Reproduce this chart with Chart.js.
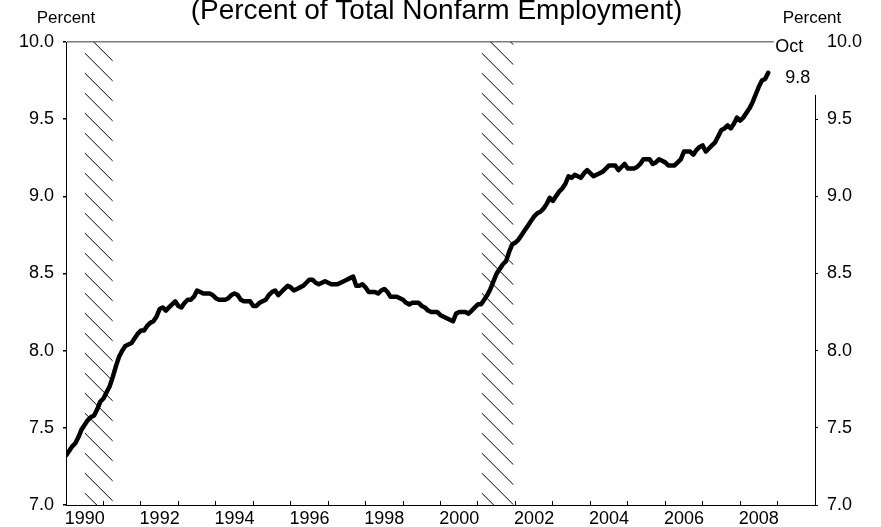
<!DOCTYPE html>
<html>
<head>
<meta charset="utf-8">
<script src="https://cdn.jsdelivr.net/npm/chart.js@4.4.0/dist/chart.umd.min.js"></script>
<style>
  html, body { margin: 0; padding: 0; background: #fff; }
</style>
</head>
<body>
<canvas id="myChart" width="881" height="527"></canvas>
<script>
// monthly series, Jan 1990 .. Oct 2008 (percent of total nonfarm employment)
var startYear = 1990;
var shares = [
    7.32, 7.35, 7.38, 7.40, 7.44, 7.49, 7.52, 7.55, 7.57, 7.58, 7.62, 7.67, // 1990
    7.69, 7.73, 7.77, 7.83, 7.90, 7.96, 8.00, 8.03, 8.04, 8.05, 8.08, 8.11, // 1991
    8.13, 8.13, 8.16, 8.18, 8.19, 8.22, 8.27, 8.28, 8.26, 8.28, 8.30, 8.32, // 1992
    8.29, 8.28, 8.31, 8.33, 8.33, 8.35, 8.39, 8.38, 8.37, 8.37, 8.37, 8.36, // 1993
    8.34, 8.33, 8.33, 8.33, 8.34, 8.36, 8.37, 8.36, 8.33, 8.32, 8.32, 8.32, // 1994
    8.29, 8.29, 8.31, 8.32, 8.33, 8.36, 8.38, 8.39, 8.36, 8.38, 8.40, 8.42, // 1995
    8.41, 8.39, 8.40, 8.41, 8.42, 8.44, 8.46, 8.46, 8.44, 8.43, 8.44, 8.45, // 1996
    8.44, 8.43, 8.43, 8.43, 8.44, 8.45, 8.46, 8.47, 8.48, 8.42, 8.42, 8.43, // 1997
    8.41, 8.38, 8.38, 8.38, 8.37, 8.39, 8.40, 8.38, 8.35, 8.35, 8.35, 8.34, // 1998
    8.33, 8.31, 8.30, 8.31, 8.31, 8.31, 8.29, 8.28, 8.26, 8.25, 8.25, 8.25, // 1999
    8.23, 8.22, 8.21, 8.20, 8.19, 8.24, 8.25, 8.25, 8.25, 8.24, 8.26, 8.28, // 2000
    8.30, 8.30, 8.33, 8.36, 8.40, 8.45, 8.50, 8.53, 8.56, 8.58, 8.64, 8.69, // 2001
    8.70, 8.72, 8.75, 8.78, 8.81, 8.84, 8.87, 8.89, 8.90, 8.92, 8.95, 8.99, // 2002
    8.97, 9.00, 9.03, 9.05, 9.08, 9.13, 9.12, 9.14, 9.13, 9.12, 9.15, 9.17, // 2003
    9.15, 9.13, 9.14, 9.15, 9.16, 9.18, 9.20, 9.20, 9.20, 9.17, 9.19, 9.21, // 2004
    9.18, 9.18, 9.18, 9.19, 9.21, 9.24, 9.24, 9.24, 9.21, 9.22, 9.24, 9.23, // 2005
    9.22, 9.20, 9.20, 9.20, 9.22, 9.24, 9.29, 9.29, 9.29, 9.27, 9.30, 9.32, // 2006
    9.33, 9.29, 9.31, 9.33, 9.35, 9.39, 9.43, 9.44, 9.46, 9.44, 9.47, 9.51, // 2007
    9.49, 9.51, 9.54, 9.57, 9.61, 9.66, 9.71, 9.75, 9.76, 9.80              // 2008
];
var yearLabels = [1990, 1992, 1994, 1996, 1998, 2000, 2002, 2004, 2006, 2008];
var recessionStart = [1990.5, 2001.1];
var recessionEnd = [1991.25, 2001.95];
var lastMonthName = 'Oct';
var titleText = '(Percent of Total Nonfarm Employment)';
var unitText = 'Percent';

var FONT = '"Liberation Sans", Arial, sans-serif';

var points = shares.map(function(v, i) {
    return {x: startYear + i / 12, y: v};
});

// hatched recession bands, drawn under the line
var recessionPlugin = {
    id: 'recessions',
    beforeDatasetsDraw: function(chart) {
        var ctx = chart.ctx, area = chart.chartArea, xs = chart.scales.x;
        ctx.save();
        ctx.strokeStyle = '#000';
        ctx.lineWidth = 1;
        for (var r = 0; r < recessionStart.length; r++) {
            var x1 = xs.getPixelForValue(recessionStart[r]);
            var x2 = xs.getPixelForValue(recessionEnd[r]);
            var w = x2 - x1;
            ctx.save();
            ctx.beginPath();
            ctx.rect(x1, area.top, w, area.bottom - area.top);
            ctx.clip();
            ctx.beginPath();
            for (var y = area.top + 11 - 20 * Math.ceil(w / 20 + 1); y < area.bottom; y += 20) {
                ctx.moveTo(x1, y);
                ctx.lineTo(x2, y + w);
            }
            ctx.stroke();
            ctx.restore();
        }
        ctx.restore();
    }
};

// "Oct / 9.8" label at end of line, titles
var labelPlugin = {
    id: 'labels',
    afterDatasetsDraw: function(chart) {
        var ctx = chart.ctx, area = chart.chartArea;
        var last = points[points.length - 1];
        var px = chart.scales.x.getPixelForValue(last.x);
        var py = chart.scales.y.getPixelForValue(last.y);
        ctx.save();
        ctx.fillStyle = '#fff';
        ctx.fillRect(px + 5.5, area.top - 12, 46, py + 22 - (area.top - 12));
        ctx.fillStyle = '#000';
        ctx.font = '18px ' + FONT;
        ctx.textBaseline = 'middle';
        ctx.textAlign = 'left';
        ctx.fillText(lastMonthName, px + 7, area.top + 5);
        ctx.fillText(last.y.toFixed(1), px + 17, py + 5);
        ctx.restore();
    },
    afterDraw: function(chart) {
        var ctx = chart.ctx, area = chart.chartArea;
        ctx.save();
        ctx.fillStyle = '#000';
        ctx.textAlign = 'center';
        ctx.textBaseline = 'alphabetic';
        ctx.font = '28px ' + FONT;
        ctx.fillText(titleText, (area.left + area.right) / 2 - 4, 19);
        ctx.font = '17px ' + FONT;
        ctx.fillText(unitText, area.left, 23);
        ctx.fillText(unitText, area.right - 3, 23);
        ctx.restore();
    }
};

var ctx = document.getElementById('myChart').getContext('2d');
var myChart = new Chart(ctx, {
    type: 'line',
    data: {
        datasets: [{
            data: points,
            borderColor: '#000',
            borderWidth: 4.5,
            borderJoinStyle: 'round',
            borderCapStyle: 'round',
            pointRadius: 0,
            tension: 0,
            fill: false
        }]
    },
    options: {
        responsive: false,
        animation: false,
        layout: {padding: {top: 42, left: 0, right: 0, bottom: 0}},
        plugins: {legend: {display: false}, tooltip: {enabled: false}},
        scales: {
            x: {
                type: 'linear',
                position: 'bottom',
                weight: 0,
                min: 1990,
                max: 2010,
                ticks: {display: false, stepSize: 1},
                grid: {drawOnChartArea: false, tickLength: -4, color: '#000', lineWidth: 1},
                border: {display: true, color: '#000', width: 1},
                afterFit: function(s) { s.height = 0; }
            },
            xl: {
                type: 'linear',
                position: 'bottom',
                weight: 1,
                min: 1989.5,
                max: 2009.5,
                afterBuildTicks: function(s) {
                    s.ticks = yearLabels.map(function(v) { return {value: v}; });
                },
                ticks: {
                    autoSkip: false, maxRotation: 0, padding: 3, color: '#000',
                    font: {family: FONT, size: 18},
                    callback: function(v) { return String(v); }
                },
                grid: {display: false, drawTicks: false},
                border: {display: false},
                afterFit: function(s) { s.height = 22; }
            },
            y: {
                position: 'left',
                min: 7,
                max: 10,
                ticks: {
                    stepSize: 0.5, padding: 9, color: '#000',
                    font: {family: FONT, size: 18},
                    callback: function(v) { return v.toFixed(1); }
                },
                grid: {
                    drawOnChartArea: true,
                    tickLength: 3,
                    lineWidth: 1.5,
                    tickColor: '#000',
                    color: function(c) { return c.tick && c.tick.value === 10 ? '#7a7a7a' : 'rgba(0,0,0,0)'; }
                },
                border: {display: true, color: '#000', width: 1},
                afterFit: function(s) { s.width = 66; }
            },
            y2: {
                position: 'right',
                min: 7,
                max: 10,
                ticks: {
                    stepSize: 0.5, padding: 9, color: '#000',
                    font: {family: FONT, size: 18},
                    callback: function(v) { return v.toFixed(1); }
                },
                grid: {drawOnChartArea: false, tickLength: 3, color: '#000'},
                border: {display: true, color: '#000', width: 1},
                afterFit: function(s) { s.width = 66; }
            }
        }
    },
    plugins: [recessionPlugin, labelPlugin]
});
</script>
</body>
</html>
